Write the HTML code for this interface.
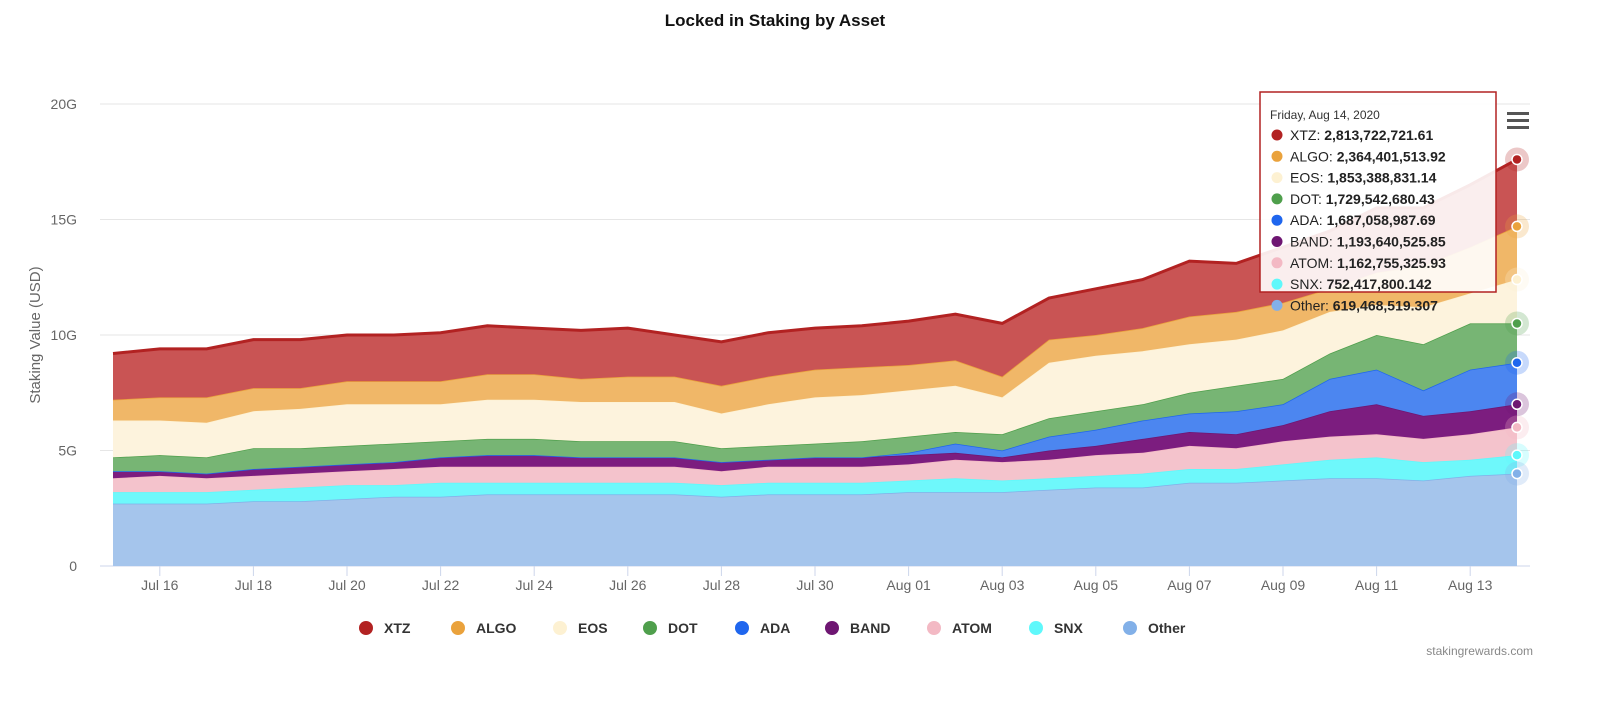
<!DOCTYPE html>
<html><head><meta charset="utf-8">
<style>
body{margin:0;background:#fff;font-family:"Liberation Sans",sans-serif;}
svg text{font-family:"Liberation Sans",sans-serif;}
</style></head>
<body>
<svg id="chart" width="1600" height="705" xmlns="http://www.w3.org/2000/svg">
<rect width="1600" height="705" fill="#fff"/>
<text x="775" y="26" text-anchor="middle" font-size="17" font-weight="bold" fill="#111">Locked in Staking by Asset</text>
<g id="grid"></g>
<g id="areas"></g>
<g id="xaxis"></g>
<text transform="translate(40,335) rotate(-90)" text-anchor="middle" font-size="15" fill="#666">Staking Value (USD)</text>
<g id="markers"></g>
<g>
<rect x="1260" y="92" width="236" height="200" fill="#fff" fill-opacity="0.9" stroke="#b22222" stroke-width="1.5"/>
<text x="1270" y="119" font-size="12" fill="#333">Friday, Aug 14, 2020</text>
<g id="tipRows"></g>
</g>
<g>
<rect x="1507" y="112" width="22" height="3" fill="#555"/><rect x="1507" y="119" width="22" height="3" fill="#555"/><rect x="1507" y="126" width="22" height="3" fill="#555"/>
</g>
<g id="legend"></g>
<text x="1533" y="655" text-anchor="end" font-size="12" fill="#888">stakingrewards.com</text>
</svg>
<script>
const names=["XTZ","ALGO","EOS","DOT","ADA","BAND","ATOM","SNX","Other"];
const colors=["#b22222","#eaa23c","#fdf1d2","#4f9f4c","#1f66ee","#6e1672","#f3b9c4","#5ff8fb","#82b0e8"];
const fills=["#c95454","#f0b768","#fdf3dd","#77b574","#4c86f0","#7c1d7f","#f4c3cc","#6ef8fb","#a5c5ec"];
const tipValues=["2,813,722,721.61","2,364,401,513.92","1,853,388,831.14","1,729,542,680.43","1,687,058,987.69","1,193,640,525.85","1,162,755,325.93","752,417,800.142","619,468,519.307"];
const yTicks=[0,5,10,15,20];
const yTickLabels=["0","5G","10G","15G","20G"];
const xTickLabels=["Jul 16","Jul 18","Jul 20","Jul 22","Jul 24","Jul 26","Jul 28","Jul 30","Aug 01","Aug 03","Aug 05","Aug 07","Aug 09","Aug 11","Aug 13"];
// day index 0 = Jul 15
const xTickDays=[1,3,5,7,9,11,13,15,17,19,21,23,25,27,29];
// stacked tops (G USD) per series, Jul 15 .. Aug 14
const xtzTop=[9.2,9.4,9.4,9.8,9.8,10.0,10.0,10.1,10.4,10.3,10.2,10.3,10.0,9.7,10.1,10.3,10.4,10.6,10.9,10.5,11.6,12.0,12.4,13.2,13.1,13.8,14.5,15.5,15.5,16.5,17.6];
const algoTop=[7.2,7.3,7.3,7.7,7.7,8.0,8.0,8.0,8.3,8.3,8.1,8.2,8.2,7.8,8.2,8.5,8.6,8.7,8.9,8.2,9.8,10.0,10.3,10.8,11.0,11.4,12.0,12.7,13.0,13.8,14.7];
const eosTop=[6.3,6.3,6.2,6.7,6.8,7.0,7.0,7.0,7.2,7.2,7.1,7.1,7.1,6.6,7.0,7.3,7.4,7.6,7.8,7.3,8.8,9.1,9.3,9.6,9.8,10.2,11.0,11.3,11.2,11.8,12.4];
const dotTop=[4.7,4.8,4.7,5.1,5.1,5.2,5.3,5.4,5.5,5.5,5.4,5.4,5.4,5.1,5.2,5.3,5.4,5.6,5.8,5.7,6.4,6.7,7.0,7.5,7.8,8.1,9.2,10.0,9.6,10.5,10.5];
const adaTop=[null,null,null,null,null,null,null,null,null,null,null,null,null,null,null,null,null,4.9,5.3,5.0,5.6,5.9,6.3,6.6,6.7,7.0,8.1,8.5,7.6,8.5,8.8];
const bandTop=[4.1,4.1,4.0,4.2,4.3,4.4,4.5,4.7,4.8,4.8,4.7,4.7,4.7,4.5,4.6,4.7,4.7,4.8,4.9,4.7,5.0,5.2,5.5,5.8,5.7,6.1,6.7,7.0,6.5,6.7,7.0];
const atomTop=[3.8,3.9,3.8,3.9,4.0,4.1,4.2,4.3,4.3,4.3,4.3,4.3,4.3,4.1,4.3,4.3,4.3,4.4,4.6,4.5,4.6,4.8,4.9,5.2,5.1,5.4,5.6,5.7,5.5,5.7,6.0];
const snxTop=[3.2,3.2,3.2,3.3,3.4,3.5,3.5,3.6,3.6,3.6,3.6,3.6,3.6,3.5,3.6,3.6,3.6,3.7,3.8,3.7,3.8,3.9,4.0,4.2,4.2,4.4,4.6,4.7,4.5,4.6,4.8];
const otherTop=[2.7,2.7,2.7,2.8,2.8,2.9,3.0,3.0,3.1,3.1,3.1,3.1,3.1,3.0,3.1,3.1,3.1,3.2,3.2,3.2,3.3,3.4,3.4,3.6,3.6,3.7,3.8,3.8,3.7,3.9,4.0];

const NS="http://www.w3.org/2000/svg";
const X0=113,DX=46.8,Y0=566,YS=23.1;
const xs=d=>X0+d*DX, ys=v=>Y0-v*YS;
function mk(tag,attrs,parent){const e=document.createElementNS(NS,tag);for(const k in attrs)e.setAttribute(k,attrs[k]);parent.appendChild(e);return e;}
const grid=document.getElementById('grid');
yTicks.forEach((t,i)=>{
 const l=mk('line',{x1:100,x2:1530,y1:ys(t),y2:ys(t),stroke:i?"#e6e6e6":"#ccd6eb"},grid);
 
 
 const tx=mk('text',{x:77,y:ys(t)+5,'text-anchor':'end','font-size':14,fill:'#666'},grid);
 tx.textContent=yTickLabels[i];
 
 
});
const xa=document.getElementById('xaxis');
xTickDays.forEach((d,i)=>{
 mk('line',{x1:xs(d),x2:xs(d),y1:566,y2:576,stroke:'#ccd6eb'},xa);
 const t=mk('text',{x:xs(d),y:590,'text-anchor':'middle','font-size':14,fill:'#666'},xa);
 t.textContent=xTickLabels[i];
 
 
});
const n=xtzTop.length;
const adaEff=adaTop.map((v,i)=>v==null?bandTop[i]:v);
const tops=[xtzTop,algoTop,eosTop,dotTop,adaEff,bandTop,atomTop,snxTop,otherTop];
const zero=new Array(n).fill(0);
const areas=document.getElementById('areas');
for(let s=tops.length-1;s>=0;s--){
 const top=tops[s],bot=s<tops.length-1?tops[s+1]:zero;
 let d="";
 for(let i=0;i<n;i++)d+=(i?"L":"M")+xs(i).toFixed(1)+","+ys(top[i]).toFixed(1);
 for(let i=n-1;i>=0;i--)d+="L"+xs(i).toFixed(1)+","+ys(bot[i]).toFixed(1);
 const p=mk('path',{d:d+"Z",fill:fills[s]},areas);
 
 
 let ld="";
 for(let i=0;i<n;i++)ld+=(i?"L":"M")+xs(i).toFixed(1)+","+ys(top[i]).toFixed(1);
 const ln=mk('path',{d:ld,fill:'none',stroke:colors[s],'stroke-width':s==0?3:1.5},areas);
 
 
}
const mg=document.getElementById('markers');
tops.forEach((t,s)=>{
 const cx=xs(n-1),cy=ys(t[n-1]);
 mk('circle',{cx:cx,cy:cy,r:12,fill:colors[s],'fill-opacity':0.25},mg);
 const c=mk('circle',{cx:cx,cy:cy,r:5,fill:colors[s],stroke:'#fff','stroke-width':1.5},mg);
 
 
});
const tr=document.getElementById('tipRows');
names.forEach((nm,i)=>{
 const y=140+i*21.3;
 mk('circle',{cx:1277,cy:y-5,r:5.5,fill:colors[i]},tr);
 const t=mk('text',{x:1290,y:y,'font-size':14,fill:'#222'},tr);
 t.innerHTML=nm+': <tspan font-weight="bold">'+tipValues[i]+'</tspan>';
 
 
});
const lg=document.getElementById('legend');
const lx=[366,458,560,650,742,832,934,1036,1130];
names.forEach((nm,i)=>{
 const g=mk('g',{},lg);
 
 
 mk('circle',{cx:lx[i],cy:628,r:7,fill:colors[i]},g);
 const t=mk('text',{x:lx[i]+18,y:633,'font-size':14,'font-weight':'bold',fill:'#333'},g);
 t.textContent=nm;
});
</script>
</body></html>
